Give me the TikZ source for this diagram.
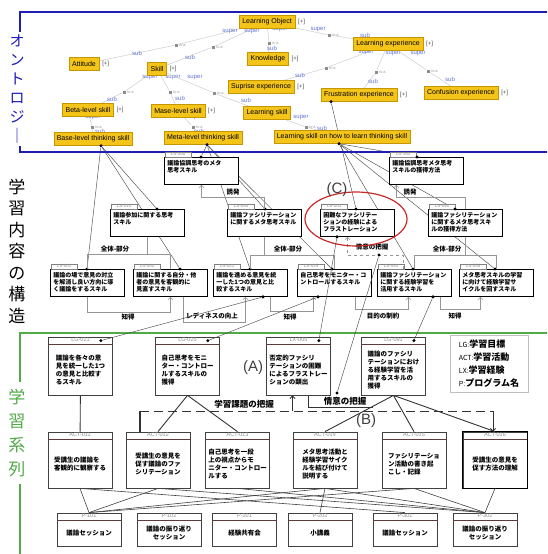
\documentclass[tikz,border=0pt]{standalone}
\usepackage{fontspec}
\setmainfont{Liberation Sans}
\newfontfamily\jp{Noto Sans CJK JP}
\usetikzlibrary{positioning, arrows.meta, backgrounds}
\XeTeXlinebreaklocale "ja"

\definecolor{ontoyellow}{RGB}{244,196,24}
\definecolor{ontoedge}{RGB}{196,150,0}
\definecolor{framblue}{RGB}{30,30,180}
\definecolor{framgreen}{RGB}{80,170,70}
\definecolor{supblue}{RGB}{95,115,215}
\definecolor{relgray}{RGB}{150,150,150}
\definecolor{sepbrown}{RGB}{90,60,60}
\definecolor{ringred}{RGB}{200,40,40}

\tikzset{
  onto/.style={draw=ontoedge, fill=ontoyellow, font=\fontsize{7}{8}\selectfont, inner xsep=3pt, inner ysep=2pt, minimum height=13pt},
  plus/.style={font=\fontsize{6}{7}\selectfont, text=black!70, inner sep=0pt},
  isa/.style={draw=black!20, line width=0.5pt},
  isasq/.style={fill=black!45, inner sep=0pt, minimum size=3pt},
  suplbl/.style={text=supblue, font=\fontsize{6}{7}\selectfont, inner sep=0pt},
  isalbl/.style={text=black!40, font=\fontsize{4}{4}\selectfont, inner sep=0pt, anchor=west},
  lsbody/.style={anchor=north west, draw, line width=0.9pt, fill=white, inner sep=3pt, font=\jp\bfseries\fontsize{6}{7}\selectfont},
  lstab/.style={anchor=south west, draw=black!50, fill=white, text=black!45, inner sep=0.8pt, minimum width=26pt, font=\fontsize{4.5}{5}\selectfont},
  bullet/.style={circle, fill=black, inner sep=0pt, minimum size=3.4pt},
  link/.style={draw=black!70, line width=0.45pt},
  rel/.style={draw=relgray, line width=0.5pt},
  arr/.style={-{Straight Barb[length=2.5pt]}},
  rellbl/.style={font=\jp\bfseries\fontsize{6.5}{7}\selectfont, inner sep=0.5pt},
  seqbody/.style={draw=black!75, line width=0.8pt, fill=white, minimum width=64pt, inner sep=0pt},
  seqid/.style={text=black!45, font=\fontsize{5.5}{6}\selectfont, inner sep=0.5pt},
  seqsep/.style={draw=sepbrown, line width=1.2pt},
  seqtext/.style={font=\jp\bfseries\fontsize{6.5}{8}\selectfont, inner sep=0pt},
  seqrel/.style={draw=black!80, line width=0.9pt},
  seqthin/.style={draw=black!75, line width=0.6pt},
  seqlbl/.style={font=\jp\bfseries\fontsize{8.5}{9}\selectfont, inner sep=0.5pt},
  tag/.style={font=\fontsize{15}{16}\selectfont, text=black!75},
  sidelbl/.style={align=center, inner ysep=3pt, inner xsep=8pt},
}

\newcommand{\lsbox}[5]{%
  \node[lsbody] (#1) at #2 {\parbox[c][21pt][t]{68pt}{\raggedright #5}};
  \node[lstab] at ([xshift=1pt]#1.north west) {#3};
  \node[bullet] (t#1) at ([xshift=#4]#1.north west) {};
}
\newcommand{\seqbox}[6][align=left]{%
  \node[seqbody, minimum height=#4] (#2) at #3 {};
  \node[seqid, below=0.6pt of #2.north] {#5};
  \draw[seqsep] ([yshift=-8pt]#2.north west) -- ([yshift=-8pt]#2.north east);
  \node[seqtext, #1] at ([yshift=-4pt]#2.center) {#6};
}
\newcommand{\lgd}[1]{{\fontsize{7}{8}\selectfont\mdseries #1}}

\begin{document}
\begin{tikzpicture}[x=1pt, y=-1pt]
\useasboundingbox (0,0) rectangle (547,554);

\draw[framblue, line width=1.8pt] (547,12) -- (20,12) -- (20,152) -- (547,152);
\draw[framgreen, line width=1.5pt] (547,333) -- (20,333) -- (20,554);

\node[onto] (lo) at (267,22) {Learning Object};
\node[onto] (lexp) at (388,44) {Learning experience};
\node[onto] (att) at (84,64) {Attitude};
\node[onto] (skill) at (157,69) {Skill};
\node[onto] (know) at (268,59) {Knowledge};
\node[onto] (sup) at (261,87) {Suprise experience};
\node[onto] (fru) at (359,95) {Frustration experience};
\node[onto] (conf) at (461,93) {Confusion experience};
\node[onto] (beta) at (88,110) {Beta-level skill};
\node[onto] (mase) at (178,111) {Mase-level skill};
\node[onto] (lskill) at (267,113) {Learning skill};
\node[onto] (base) at (93,139) {Base-level thinking skill};
\node[onto] (meta) at (203,138) {Meta-level thinking skill};
\node[onto] (lsh) at (342,137) {Learning skill on how to learn thinking skill};

\foreach \c in {lo, lexp, att, skill, know, sup, fru, conf, beta, mase}
  \node[plus, right=3pt of \c] {[+]};

\begin{scope}[on background layer]
\foreach \p/\c/\sx/\sy/\ax/\ay/\bx/\by in {
  lo/att/176/45/230/32/137/53,
  lo/skill/213/47/252/32/190/57,
  lo/know/269/43/280/30/272/48,
  lo/lexp/329/35/318/30/365/35,
  lexp/sup/326/68/366/53/300/75,
  lexp/fru/376/72/393/54/373/81,
  lexp/conf/428/71/418/54/450/79,
  skill/beta/124/92/150/78/112/99,
  skill/mase/170/92/173/78/180/98,
  skill/lskill/214/93/195/78/246/100,
  beta/base/92/127/93/118/100/131,
  mase/meta/193/127/195/118/199/131,
  lskill/lsh/306/127/301/118/322/128}
{
  \node[isasq] (q\c) at (\sx,\sy) {};
  \node[isalbl] at (\sx+3,\sy) {is-a};
  \draw[isa] (\p) -- (q\c) -- (\c);
  \node[suplbl] at (\ax,\ay) {super};
  \node[suplbl] at (\bx,\by) {sub};
}
\end{scope}

\foreach \n/\x/\y/\id/\d/\t in {
  ls100/164/157/LS-100/37pt/{議論協調思考のメタ\\思考スキル},
  ls151/389/157/LS-151/28pt/{議論協調思考メタ思考\\スキルの獲得方法},
  ls010/110/209/LS-010/47pt/{議論参加に関する思考\\スキル},
  ls040/227/209/LS-040/38pt/{議論ファシリテーション\\に関するメタ思考スキル},
  ls201/320/209/LS-201/36pt/{困難なファシリテー\\ションの経験による\\フラストレーション},
  ls090/428/209/LS-090/27pt/{議論ファシリテーション\\に関するメタ思考スキ\\ルの獲得方法},
  ls001/50/269/LS-001/37pt/{議論の場で意見の対立\\を解消し良い方向に導\\く議論をするスキル},
  ls002/133/269/LS-002/47pt/{議論に関する自分・他\\者の意見を客観的に\\見直すスキル},
  ls021/213/269/LS-021/37pt/{議論を進める意見を統\\一した1つの意見と比\\較するスキル},
  ls025/297/269/LS-025/35pt/{自己思考をモニター・コ\\ントロールするスキル},
  ls051/377/269/LS-051/36pt/{議論ファシリテーション\\に関する経験学習を\\活用するスキル},
  ls055/459/269/LS-055/36pt/{メタ思考スキルの学習\\に向けて経験学習サ\\イクルを回すスキル}}
  \lsbox{\n}{(\x,\y)}{\id}{\d}{\t};

\node[bullet] (oBase) at ([xshift=8pt]base.south) {};
\node[bullet] (oMeta) at ([xshift=4pt]meta.south) {};
\node[bullet] (oLsh) at ([xshift=-3pt]lsh.south) {};
\node[bullet] (oFru) at ([xshift=-28pt]fru.south) {};
\node[bullet] (uls201) at ([xshift=17pt]ls201.south west) {};
\node[bullet] (uls021) at ([xshift=50pt]ls021.south west) {};
\node[bullet] (uls025) at ([xshift=21pt]ls025.south west) {};
\node[bullet] (uls051) at ([xshift=56pt]ls051.south west) {};

\begin{scope}[on background layer]
\foreach \a/\b in {oBase/tls001, oBase/tls010, oBase/tls002, oMeta/tls100, oMeta/tls021,
    oMeta/tls040, oMeta/tls025, oLsh/tls151, oLsh/tls090, oLsh/tls051, oLsh/tls055, oFru/tls201}
  \draw[link] (\a) -- (\b);
\end{scope}

\draw[rel, arr] (ls040.north) -- ++(0,-12) -| (ls100.south);
\node[rellbl] at (233,192) {誘発};
\draw[rel, arr] (ls090.north) -- ++(0,-12) -| ([xshift=-30pt]ls151.south);
\node[rellbl] at (410,192) {誘発};

\draw[rel] (ls010.south) -- ++(0,17) coordinate (wp1);
\draw[rel] (ls001.north) |- (wp1) -| (ls002.north);
\node[rellbl] at (115,249) {全体-部分};
\draw[rel] (ls040.south) -- ++(0,18) coordinate (wp2);
\draw[rel] (ls021.north) |- (wp2) -| (ls025.north);
\node[rellbl] at (288,249) {全体-部分};
\draw[rel] (ls090.south) -- ++(0,18) coordinate (wp3);
\draw[rel] (ls051.north) |- (wp3) -| (ls055.north);
\node[rellbl] at (447,249) {全体-部分};

\draw[rel, dashed, arr] ([xshift=-11pt]ls051.north) -- ++(0,-14) -| ([xshift=-10pt]ls201.south);
\node[rellbl] at (372,247) {情意の把握};
\node[bullet] (jdot) at (379,255) {};

\draw[rel, arr] (ls001.south) -- ++(0,15) -| (ls002.south);
\node[rellbl] at (128,317) {知得};
\draw[rel, arr] ([xshift=13pt]ls002.south) -- ++(0,25) -| ([xshift=-5pt]ls021.south);
\node[rellbl] at (212,316) {レディネスの向上};
\draw[rel, arr] ([xshift=20pt]ls021.south) -- ++(0,14) -| ([xshift=-21pt]ls025.south);
\node[rellbl] at (290,317) {知得};
\draw[rel, arr] ([xshift=21pt]ls025.south) -- ++(0,12) -| ([xshift=-6pt]ls051.south);
\node[rellbl] at (383,316) {目的の制約};
\draw[rel, arr] ([xshift=26pt]ls051.south) -- ++(0,12) -| ([xshift=-16pt]ls055.south);
\node[rellbl] at (455,316) {知得};

\draw[ringred, line width=1.2pt] (356,219) ellipse [x radius=51pt, y radius=27pt];
\node[tag] (tagC) at (337,190) {(C)};

\foreach \n/\x/\id/\t in {
  lg021/80.5/LG-021/{議論を各々の意\\見を統一した1つ\\の意見と比較す\\るスキル},
  lg025/187.5/LG-025/{自己思考をモニ\\ター・コントロー\\ルするスキルの\\獲得},
  lx005/298.5/LX-005/{否定的ファシリ\\テーションの困難\\によるフラストレー\\ションの顕出},
  lg091/393.5/LG-091/{議論のファシリ\\テーションにおけ\\る経験学習を活\\用するスキルの\\獲得}}
  \seqbox{\n}{(\x,366)}{58pt}{\id}{\t};

\foreach \n/\x/\id/\t in {
  act011/80/ACT-011/{受講生の議論を\\客観的に観察する},
  act012/158/ACT-012/{受講生の意見を\\促す議論のファ\\シリテーション},
  act013/237.5/ACT-013/{自己思考を一段\\上の視点からモ\\ニター・コントロー\\ルする},
  act014/325/ACT-014/{メタ思考活動と\\経験学習サイク\\ルを結び付けて\\説明する},
  act015/414/ACT-015/{ファシリテーショ\\ン活動の書き起\\こし・記録},
  act016/495/ACT-016/{受講生の意見を\\促す方法の理解}}
  \seqbox{\n}{(\x,460)}{56pt}{\id}{\t};
\draw[line width=1.6pt] (act016.north west) rectangle (act016.south east);

\foreach \n/\x/\id/\t in {
  p101/89/P-101/{議論セッション},
  p102/169/P-102/{議論の振り返り\\セッション},
  p201/244.5/P-201/{経験共有会},
  p202/320/P-202/{小講義},
  p301/405/P-301/{議論セッション},
  p302/485/P-302/{議論の振り返り\\セッション}}
  \seqbox[align=center]{\n}{(\x,529.5)}{33pt}{\id}{\t};

\node[draw=black!25, minimum width=78pt, minimum height=57pt, align=left, inner sep=3pt,
  font=\jp\bfseries\fontsize{9}{13}\selectfont] (legend) at (489,363.5)
  {\lgd{LG:}学習目標\\\lgd{ACT:}学習活動\\\lgd{LX:}学習経験\\\lgd{P:}プログラム名};

\foreach \g in {lg021, lg025, lx005, lg091}
  \node[bullet] (d\g) at ([xshift=-12pt, yshift=-4pt]\g.north east) {};
\node[bullet] (qB) at (337,393) {};
\foreach \a/\b in {uls021/dlg021, uls025/dlg025, uls201/dlx005, uls051/dlg091, jdot/qB}
  \draw[link] (\a) -- (\b);

\draw[seqrel] (lg021) -- (act011);
\draw[seqrel] (lg025.south) -- (act012.north);
\draw[seqrel] (lg025.south) -- (act013.north);
\draw[seqrel] (lg091.south) -- (act014.north);
\draw[seqrel] (lg091.south) -- (act015.north);
\draw[seqrel] (lg091.south) -- (act016.north);

\coordinate (dl) at (140,411);
\coordinate (dr) at (493,411);
\draw[seqrel, dash pattern=on 9pt off 5pt] (dl) -- (dr);
\draw[seqrel, arr] (dr) -- (dr |- act016.north);
\draw[seqrel, line width=1.8pt] (dl) -- (dl |- act012.north);
\draw[seqrel, arr] ([xshift=-6pt]lx005.south |- dl) -- ([xshift=-6pt]lx005.south);
\draw[seqrel] ([xshift=10pt]lx005.south) |- (373,407);
\node[seqlbl] (taskl) at (244,404) {学習課題の把握};
\node[seqlbl] (emol) at (345,401) {情意の把握};

\foreach \a/\b in {act011/p101, act012/p101, act014/p101, act015/p101, act011/p301, act012/p302,
    act013/p302, act014/p202, act014/p302, act015/p302, act016/p302}
  \draw[seqthin] (\a.south) -- (\b.north);

\node[tag] (tagA) at (253,368) {(A)};
\node[tag] (tagB) at (366,421) {(B)};

\node[sidelbl, fill=white, text=framblue, font=\jp\fontsize{15}{19}\selectfont] (sideonto) at (17,89)
  {オ\\ン\\ト\\ロ\\ジ\\｜};
\node[sidelbl, font=\jp\fontsize{17}{21.5}\selectfont] (sidecont) at (17,251)
  {学\\習\\内\\容\\の\\構\\造};
\node[sidelbl, fill=white, inner ysep=7pt, text=framgreen, font=\jp\fontsize{17}{24}\selectfont] (sideseq) at (17,433)
  {学\\習\\系\\列};
\end{tikzpicture}
\end{document}
